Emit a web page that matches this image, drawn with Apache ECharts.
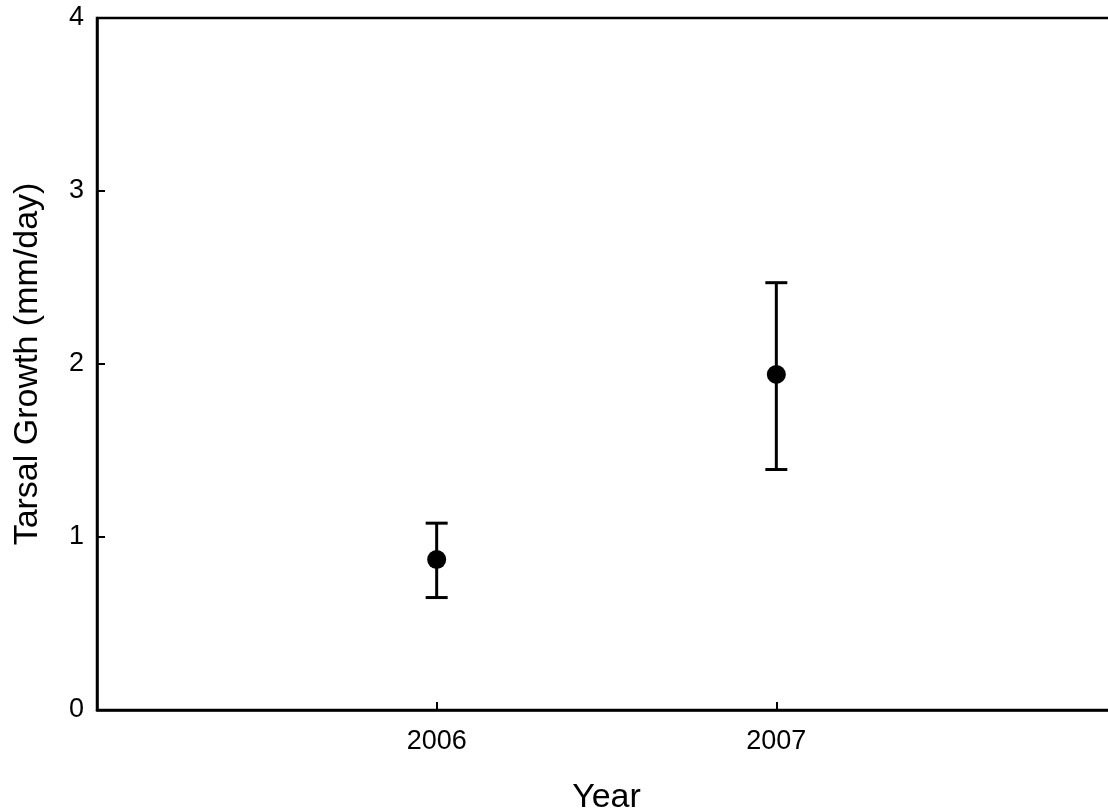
<!DOCTYPE html>
<html>
<head>
<meta charset="utf-8">
<style>
  html, body { margin: 0; padding: 0; background: #fff; }
  #chart { width: 1108px; height: 812px; }
</style>
<script src="https://cdn.jsdelivr.net/npm/echarts@6/dist/echarts.min.js"></script>
</head>
<body>
<div id="chart"></div>
<script>
// Mean tarsal growth per year with error bars
const years = [2006, 2007];
const means = [0.87, 1.94];
const upper = [1.08, 2.47];
const lower = [0.65, 1.39];
const yTicks = [0, 1, 2, 3, 4];
const xLabelYears = [2006, 2007];

const FONT = '"Liberation Sans", Arial, Helvetica, sans-serif';

const chart = echarts.init(document.getElementById('chart'));

const errData = years.map((y, i) => [y, lower[i], upper[i]]);
const ptData = years.map((y, i) => [y, means[i]]);

chart.setOption({
  animation: false,
  backgroundColor: '#ffffff',
  // plot frame runs past the right edge of the page
  grid: {
    left: 97, top: 18, height: 692, width: 1019,
    outerBoundsMode: 'none',
    containLabel: false,
    show: true, borderColor: '#000', borderWidth: 2.5,
    backgroundColor: 'transparent'
  },
  xAxis: {
    type: 'value',
    min: 2005, max: 2008, interval: 1,
    name: 'Year',
    nameLocation: 'middle',
    nameGap: 71,
    nameTextStyle: { fontFamily: FONT, fontSize: 34, color: '#000' },
    axisLine: { show: true, onZero: false, lineStyle: { color: '#000', width: 2.5 } },
    axisTick: { show: true, inside: true, length: 8, lineStyle: { color: '#000', width: 2 } },
    axisLabel: {
      margin: 18, fontFamily: FONT, fontSize: 27, color: '#000',
      formatter: v => xLabelYears.includes(v) ? String(v) : ''
    },
    splitLine: { show: false }
  },
  yAxis: {
    type: 'value',
    min: yTicks[0], max: yTicks[yTicks.length - 1], interval: 1,
    name: 'Tarsal Growth (mm/day)',
    nameLocation: 'middle',
    nameGap: 52,
    nameTextStyle: { fontFamily: FONT, fontSize: 34, color: '#000' },
    axisLine: { show: true, lineStyle: { color: '#000', width: 2.5 } },
    axisTick: { show: true, inside: true, length: 8, lineStyle: { color: '#000', width: 2 } },
    axisLabel: { margin: 13, fontFamily: FONT, fontSize: 27, color: '#000' },
    splitLine: { show: false }
  },
  series: [
    {
      type: 'custom',
      data: errData,
      renderItem: function (params, api) {
        const x = api.value(0);
        const lo = api.coord([x, api.value(1)]);
        const hi = api.coord([x, api.value(2)]);
        const half = 11;
        const style = { stroke: '#000', lineWidth: 3 };
        return {
          type: 'group',
          children: [
            { type: 'line', shape: { x1: lo[0], y1: lo[1], x2: hi[0], y2: hi[1] }, style: style },
            { type: 'line', shape: { x1: hi[0] - half, y1: hi[1], x2: hi[0] + half, y2: hi[1] }, style: style },
            { type: 'line', shape: { x1: lo[0] - half, y1: lo[1], x2: lo[0] + half, y2: lo[1] }, style: style }
          ]
        };
      },
      z: 2
    },
    {
      type: 'scatter',
      data: ptData,
      symbol: 'circle',
      symbolSize: 19,
      itemStyle: { color: '#000', opacity: 1 },
      z: 3
    }
  ]
});
</script>
</body>
</html>
